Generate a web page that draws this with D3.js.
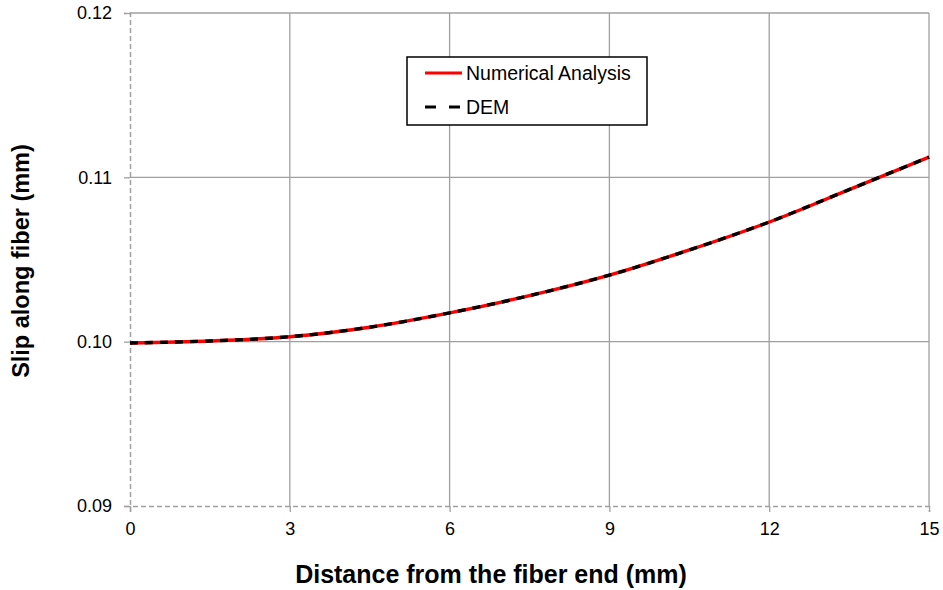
<!DOCTYPE html>
<html><head><meta charset="utf-8">
<script src="https://cdn.jsdelivr.net/npm/d3@7"></script>
<style>body{margin:0;background:#fff}svg{display:block;font-family:"Liberation Sans",Arial,sans-serif}</style>
</head><body><svg id="c" width="943" height="590"></svg>
<script>
const distance = [0, 1.5, 3, 4.5, 6, 7.5, 9, 10.5, 12, 13.5, 15];
const numerical = [0.09992, 0.10004, 0.10030, 0.10088, 0.10175, 0.10280, 0.10405, 0.10558, 0.10728, 0.10925, 0.11123];
const dem = [0.09992, 0.10004, 0.10030, 0.10088, 0.10175, 0.10280, 0.10405, 0.10558, 0.10728, 0.10925, 0.11123];
const xTicks = [0, 3, 6, 9, 12, 15];
const yTicks = [0.09, 0.10, 0.11, 0.12];
const seriesNames = ["Numerical Analysis", "DEM"];

const svg = d3.select("#c");
const m = {l:130, r:929, t:13, b:506};
const x = d3.scaleLinear().domain([0,15]).range([m.l, m.r]);
const y = d3.scaleLinear().domain([0.09,0.12]).range([m.b, m.t]);

// grid
svg.append("g").selectAll("line").data(yTicks.filter(d=>d>0.09)).join("line")
  .attr("x1", m.l).attr("x2", m.r).attr("y1", d=>y(d)).attr("y2", d=>y(d))
  .attr("stroke", "#a0a0a0").attr("stroke-width", 1.3);
svg.append("g").selectAll("line").data(xTicks.filter(d=>d>0)).join("line")
  .attr("y1", m.t).attr("y2", m.b).attr("x1", d=>x(d)).attr("x2", d=>x(d))
  .attr("stroke", "#a0a0a0").attr("stroke-width", 1.3);

// axes
const ya = svg.append("g").attr("transform", `translate(${m.l},0)`)
  .call(d3.axisLeft(y).tickValues(yTicks).tickFormat(d3.format(".2f")).tickSize(6).tickPadding(12));
const xa = svg.append("g").attr("transform", `translate(0,${m.b})`)
  .call(d3.axisBottom(x).tickValues(xTicks).tickSize(6).tickPadding(10));
[ya, xa].forEach(a => {
  a.select(".domain").attr("stroke", "#a0a0a0").attr("stroke-width", 1.5).attr("stroke-dasharray", "5,3");
  a.selectAll(".tick line").attr("stroke", "#a0a0a0").attr("stroke-width", 1.3);
  a.selectAll("text").attr("font-size", 18).attr("fill", "#000").attr("font-family", "Liberation Sans, Arial, sans-serif");
});
xa.selectAll(".tick line").attr("y1", 0);

// lines
const line = (vals) => d3.line().x((d,i)=>x(distance[i])).y(d=>y(d)).curve(d3.curveCatmullRom)(vals);
svg.append("path").attr("d", line(numerical)).attr("fill","none").attr("stroke","#ff0000").attr("stroke-width",3.4);
svg.append("path").attr("d", line(dem)).attr("fill","none").attr("stroke","#000").attr("stroke-width",3.4).attr("stroke-dasharray","8,7");

// titles
svg.append("text").attr("x", 491).attr("y", 583).attr("text-anchor","middle")
  .attr("font-size", 25).attr("font-weight","bold").text("Distance from the fiber end (mm)");
svg.append("text").attr("transform", "translate(29,261) rotate(-90)").attr("text-anchor","middle")
  .attr("font-size", 23.5).attr("font-weight","bold").text("Slip along fiber (mm)");

// legend
const lg = svg.append("g");
lg.append("rect").attr("x", 407).attr("y", 57).attr("width", 240).attr("height", 68)
  .attr("fill","#fff").attr("stroke","#000").attr("stroke-width",1.5);
const styles = [{c:"#ff0000", d:null}, {c:"#000", d:"11,13"}];
seriesNames.forEach((n,i) => {
  const yy = 73 + i*34;
  lg.append("line").attr("x1", 425).attr("x2", 462).attr("y1", yy).attr("y2", yy)
    .attr("stroke", styles[i].c).attr("stroke-width", 3).attr("stroke-dasharray", styles[i].d);
  lg.append("text").attr("x", 466).attr("y", yy+7).attr("font-size", 19.5).text(n);
});
</script></body></html>
